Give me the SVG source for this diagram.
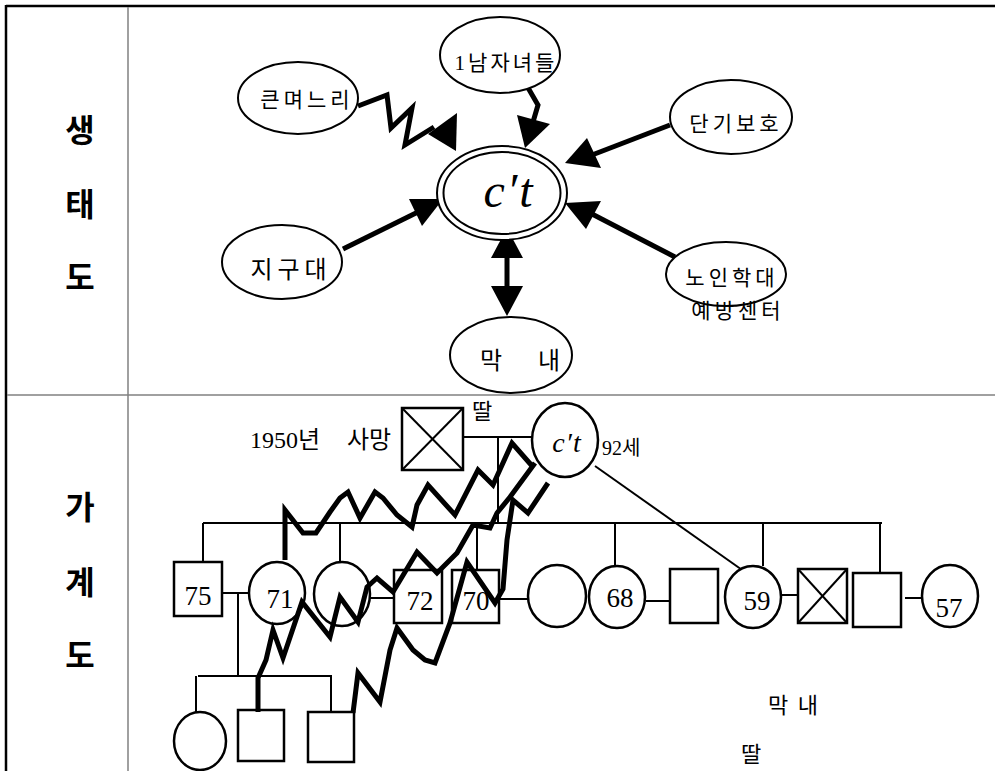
<svg xmlns="http://www.w3.org/2000/svg" width="995" height="771" viewBox="0 0 995 771">
<style>
.lbl{font-family:"Noto Sans CJK KR","Noto Sans",sans-serif;font-weight:bold;font-size:32px;fill:#000}
.t{font-family:"Liberation Serif","Noto Sans CJK KR",serif;font-size:21px;fill:#000}
.num{font-family:"Liberation Serif","Noto Sans CJK KR",serif;font-size:27px;fill:#000;text-anchor:middle}
.it{font-family:"Liberation Serif",serif;font-style:italic;fill:#000;text-anchor:middle}
.eco{fill:#fff;stroke:#000;stroke-width:2}
.gs{fill:#fff;stroke:#000;stroke-width:2.5}
.ln{fill:none;stroke:#000;stroke-width:2}
.thk{fill:none;stroke:#000;stroke-width:5;stroke-linejoin:miter}
.ah{fill:#000;stroke:none}
.frame{stroke:#000;stroke-width:2.5;fill:none}
.div{stroke:#808080;stroke-width:1.5;fill:none}
</style>

<g id="frame">
<line class="frame" x1="6" y1="6" x2="995" y2="6"/>
<line class="frame" x1="6" y1="5" x2="6" y2="771"/>
<line class="div" x1="128" y1="7" x2="128" y2="771"/>
<line class="div" x1="7" y1="395" x2="995" y2="395"/>
<text class="lbl" x="80" y="142" text-anchor="middle">생</text>
<text class="lbl" x="80" y="216" text-anchor="middle">태</text>
<text class="lbl" x="80" y="289" text-anchor="middle">도</text>
<text class="lbl" x="80" y="519" text-anchor="middle">가</text>
<text class="lbl" x="80" y="594" text-anchor="middle">계</text>
<text class="lbl" x="80" y="667" text-anchor="middle">도</text>
</g>

<g id="eco-connectors">
<polyline class="thk" points="358,106 387,95 391,128 412,108 405,145 434,127"/>
<polygon class="ah" points="428,134 457,113 456,151"/>
<polyline class="thk" points="527,86 538,105 533,122"/>
<polygon class="ah" points="517,115 550,124 525,148"/>
<line class="thk" x1="670" y1="125" x2="592" y2="155"/>
<polygon class="ah" points="587,138 601,168 565,163"/>
<line class="thk" x1="675" y1="257" x2="592" y2="214"/>
<polygon class="ah" points="601,201 586,229 565,203"/>
<line class="thk" x1="343" y1="249" x2="418" y2="212"/>
<polygon class="ah" points="409,199 422,226 443,199"/>
<line class="thk" x1="507" y1="252" x2="507" y2="292"/>
<polygon class="ah" points="507,228 491,258 523,258"/>
<polygon class="ah" points="507,316 491,286 523,286"/>
</g>

<g id="eco-client">
<ellipse class="eco" cx="502" cy="193" rx="65" ry="47"/>
<ellipse class="eco" cx="502" cy="193" rx="58.5" ry="41"/>
<text class="it" x="509" y="207" style="font-size:48px" letter-spacing="2">c′t</text>
</g>
<g id="eco-daughter-in-law">
<ellipse class="eco" cx="298" cy="98" rx="60" ry="36"/>
<text class="t" x="307" y="107" text-anchor="middle" letter-spacing="4">큰며느리</text>
</g>
<g id="eco-children">
<ellipse class="eco" cx="500" cy="55" rx="60" ry="38"/>
<text class="t" x="506" y="70" text-anchor="middle" letter-spacing="3">1남자녀들</text>
</g>
<g id="eco-respite">
<ellipse class="eco" cx="731" cy="117" rx="61" ry="37"/>
<text class="t" x="736" y="131" text-anchor="middle" letter-spacing="4">단기보호</text>
</g>
<g id="eco-police">
<ellipse class="eco" cx="282" cy="262" rx="60" ry="37"/>
<text class="t" x="291" y="278" text-anchor="middle" style="font-size:24px" letter-spacing="5">지구대</text>
</g>
<g id="eco-center">
<ellipse class="eco" cx="726" cy="274" rx="60" ry="32"/>
<text class="t" x="732" y="285" text-anchor="middle" letter-spacing="4">노인학대</text>
<text class="t" x="738" y="318" text-anchor="middle" letter-spacing="4">예방센터</text>
</g>
<g id="eco-youngest">
<ellipse class="eco" cx="511" cy="355" rx="61" ry="38"/>
<text class="t" x="480" y="369" style="font-size:24px">막 <tspan x="538">내</tspan></text>
</g>

<g id="geno-lines">
<line class="ln" x1="463" y1="437" x2="533" y2="437"/>
<line class="ln" x1="498" y1="437" x2="498" y2="523"/>
<line class="ln" x1="203" y1="523" x2="882" y2="523"/>
<line class="ln" x1="203" y1="523" x2="203" y2="562"/>
<line class="ln" x1="340" y1="523" x2="340" y2="563"/>
<line class="ln" x1="477" y1="523" x2="477" y2="570"/>
<line class="ln" x1="615" y1="523" x2="615" y2="566"/>
<line class="ln" x1="763" y1="523" x2="763" y2="566"/>
<line class="ln" x1="880" y1="523" x2="880" y2="573"/>
<line class="ln" x1="595" y1="466" x2="745" y2="572" stroke-width="1.5"/>
<line class="ln" x1="222" y1="593" x2="250" y2="593"/>
<line class="ln" x1="238" y1="593" x2="238" y2="677"/>
<line class="ln" x1="370" y1="598" x2="394" y2="598"/>
<line class="ln" x1="499" y1="599" x2="529" y2="599"/>
<line class="ln" x1="646" y1="601" x2="670" y2="601"/>
<line class="ln" x1="781" y1="595" x2="798" y2="595"/>
<line class="ln" x1="905" y1="598" x2="922" y2="598"/>
<line class="ln" x1="198" y1="676" x2="332" y2="676"/>
<line class="ln" x1="196" y1="676" x2="196" y2="713"/>
<line class="ln" x1="331" y1="676" x2="331" y2="712"/>
</g>

<g id="geno-husband">
<rect class="gs" x="402" y="408" width="61" height="62"/>
<line class="ln" x1="402" y1="408" x2="463" y2="470" stroke-width="1.5"/>
<line class="ln" x1="463" y1="408" x2="402" y2="470" stroke-width="1.5"/>
<text class="t" x="250" y="448" style="font-size:24px">1950년 <tspan x="347">사망</tspan></text>
<text class="t" x="472" y="419" style="font-size:22px">딸</text>
</g>
<g id="geno-client">
<ellipse class="gs" cx="565" cy="440" rx="33" ry="37"/>
<text class="it" x="567" y="452" style="font-size:28px" letter-spacing="1">c′t</text>
<text class="t" x="602" y="455" style="font-size:20px">92세</text>
</g>
<g id="geno-75"><rect class="gs" x="174" y="562" width="48" height="54"/><text class="num" x="198" y="605">75</text></g>
<g id="geno-71"><ellipse class="gs" cx="277" cy="593" rx="28" ry="31"/><text class="num" x="280" y="608">71</text></g>
<g id="geno-f2"><ellipse class="gs" cx="342" cy="594" rx="28" ry="32"/></g>
<g id="geno-72"><rect class="gs" x="394" y="570" width="48" height="53"/><text class="num" x="420" y="610">72</text></g>
<g id="geno-70"><rect class="gs" x="452" y="570" width="47" height="53"/><text class="num" x="476" y="610">70</text></g>
<g id="geno-f3"><ellipse class="gs" cx="557" cy="596" rx="29" ry="31"/></g>
<g id="geno-68"><ellipse class="gs" cx="617" cy="597" rx="28" ry="31"/><text class="num" x="620" y="607">68</text></g>
<g id="geno-m1"><rect class="gs" x="670" y="569" width="48" height="54"/></g>
<g id="geno-59"><ellipse class="gs" cx="753" cy="597" rx="28" ry="31"/><text class="num" x="757" y="610">59</text></g>
<g id="geno-md">
<rect class="gs" x="798" y="569" width="49" height="54" stroke-width="3"/>
<line class="ln" x1="798" y1="569" x2="847" y2="623"/>
<line class="ln" x1="847" y1="569" x2="798" y2="623"/>
</g>
<g id="geno-m2"><rect class="gs" x="853" y="573" width="48" height="54"/></g>
<g id="geno-57"><ellipse class="gs" cx="950" cy="596" rx="28" ry="31"/><text class="num" x="949" y="617">57</text></g>
<g id="geno-c1"><ellipse class="gs" cx="200" cy="741" rx="26" ry="29"/></g>
<g id="geno-c2"><rect class="gs" x="238" y="710" width="46" height="51"/></g>
<g id="geno-c3"><rect class="gs" x="308" y="712" width="46" height="50"/></g>

<g id="geno-conflict">
<polyline class="thk" points="285,560 285,510 303,533 316,533 330,512 340,498 348,492 360,518 375,492 383,498 397,515 412,527 417,505 428,485 455,515 478,470 493,485 512,443 533,467"/>
<polyline class="thk" points="258,712 258,678 266,660 273,630 283,658 302,602 330,637 340,597 358,622 367,587 377,578 393,592 417,552 437,573 457,553 473,525 490,528 497,513 510,497 535,463"/>
<polyline class="thk" points="353,713 358,673 380,702 390,650 397,628 413,650 425,660 435,663 450,623 467,562 495,603 503,589 507,540 513,500 528,513 548,483"/>
</g>

<g id="labels">
<text class="t" x="768" y="713" style="font-size:22px" letter-spacing="2">막 내</text>
<text class="t" x="741" y="762" style="font-size:22px">딸</text>
</g>
</svg>
